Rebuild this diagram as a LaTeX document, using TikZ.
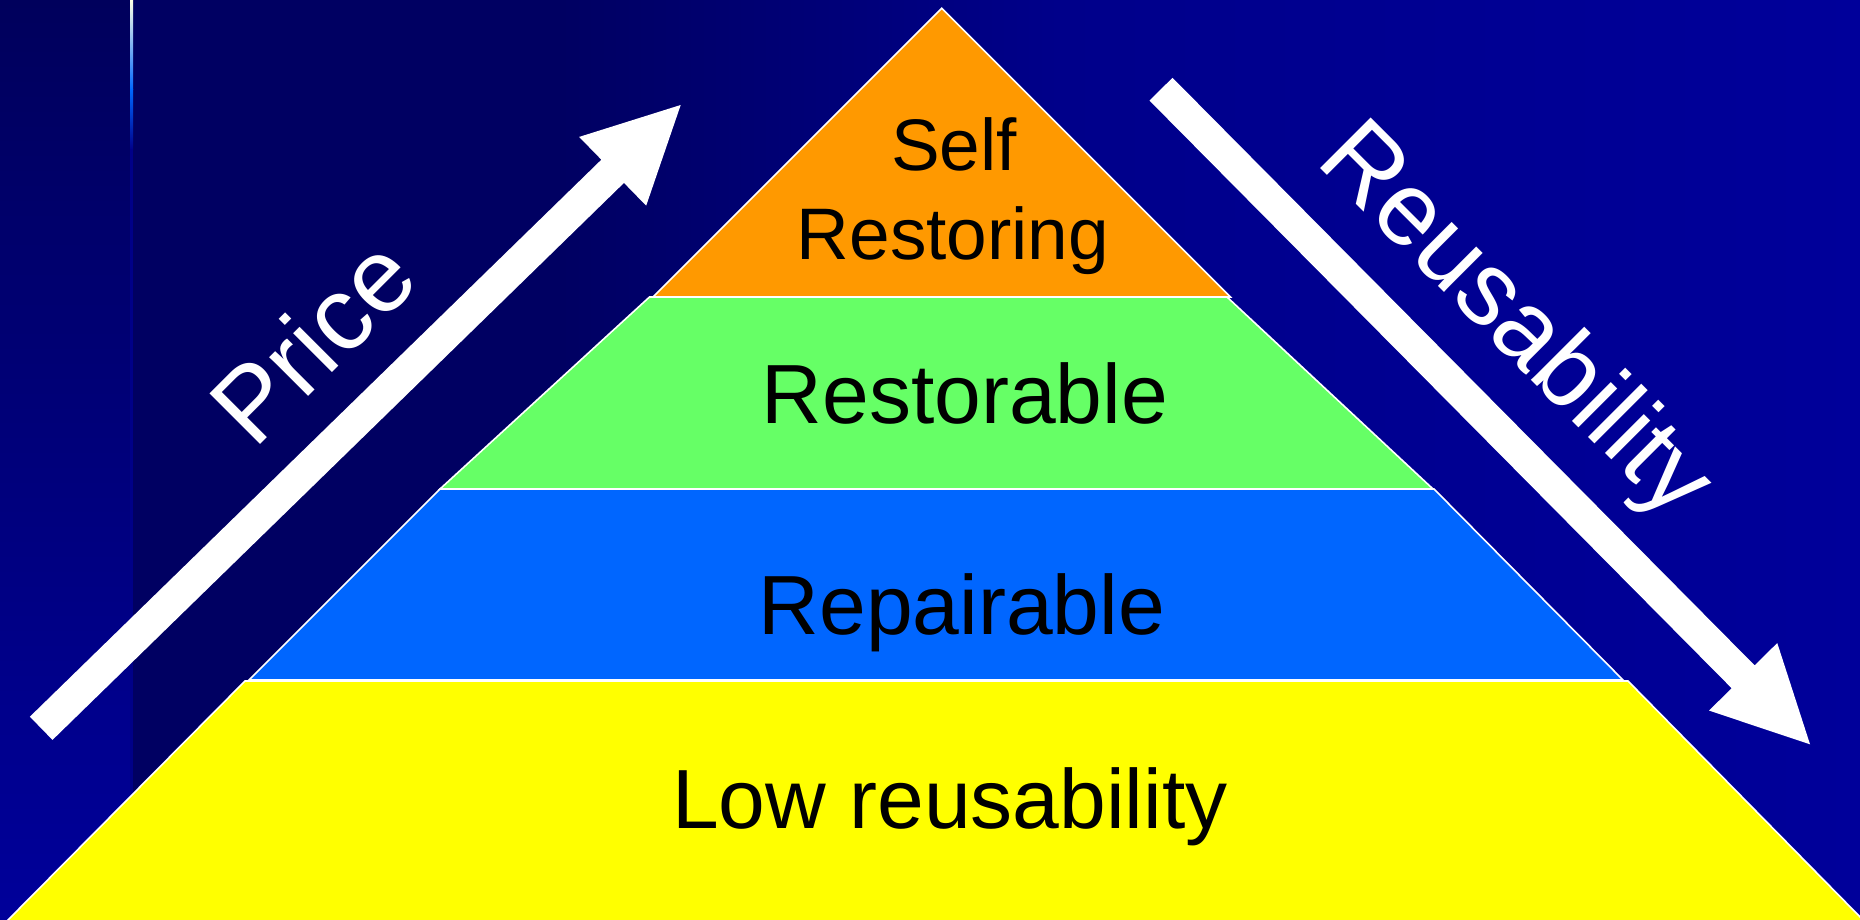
\documentclass[tikz,border=0pt]{standalone}
\usepackage{fontspec}
\setmainfont{Liberation Sans}
\usetikzlibrary{calc}
\definecolor{bgdark}{HTML}{000062}
\definecolor{bgmid}{HTML}{00008A}
\definecolor{bgright}{HTML}{00009A}
\definecolor{striptop}{HTML}{00005C}
\definecolor{stripbot}{HTML}{00009A}
\definecolor{stripline}{HTML}{000088}
\definecolor{lorange}{HTML}{FF9900}
\definecolor{lgreen}{HTML}{66FF66}
\definecolor{lblue}{HTML}{0066FF}
\definecolor{lyellow}{HTML}{FFFF00}
\definecolor{linecream}{HTML}{FFFFE6}
\newcommand{\widearrow}[2]{%
  \coordinate (#1n) at ($(#2)!95pt!(#1)$);
  \fill[bigarrow] ($(#1)!16.2pt!90:(#2)$) -- ($(#1n)!16.2pt!90:(#2)$) -- ($(#1n)!48pt!90:(#2)$) -- (#2)
    -- ($(#1n)!48pt!-90:(#2)$) -- ($(#1n)!16.2pt!-90:(#2)$) -- ($(#1)!16.2pt!-90:(#2)$) -- cycle;}
\begin{document}
\begin{tikzpicture}[x=1pt,y=1pt,
  layer/.style={draw=white,line width=1.6pt,line join=miter},
  lbl/.style={font=\fontsize{84}{100}\selectfont,text=black,inner sep=0pt,anchor=base},
  toplbl/.style={font=\fontsize{73}{89}\selectfont,text=black,inner sep=0pt,anchor=base},
  axislbl/.style={font=\fontsize{104}{120}\selectfont,text=white,inner sep=0pt,anchor=base west},
  bigarrow/.style={fill=white}]
\clip (0,0) rectangle (1860,920);
% background
\fill[bgdark] (132,0) rectangle (560,920);
\shade[left color=bgdark,right color=bgmid] (559.5,0) rectangle (1060,920);
\shade[left color=bgmid,right color=bgright] (1059.5,0) rectangle (1860,920);
\shade[top color=striptop,bottom color=stripbot] (0,0) rectangle (130,920);
% thin vertical line
\shade[top color=linecream,bottom color=lblue] (130,830) rectangle (133,920);
\shade[top color=lblue,bottom color=stripline] (130,770) rectangle (133,830.5);
\fill[stripline] (130,0) rectangle (133,770.5);
% pyramid layers
\path[layer,fill=lyellow] (245,239) -- (1628,239) -- (1866,-3) -- (5,-3) -- cycle;
\path[layer,fill=lblue] (440,431) -- (1434,431) -- (1623,240) -- (249,240) -- cycle;
\path[layer,fill=lgreen] (649.5,623) -- (1227,623) -- (1433,431) -- (440,431) -- cycle;
\path[layer,fill=lorange] (941.7,911.7) -- (1230.4,623) -- (653,623) -- cycle;
% labels
\node[toplbl] (self) at (954,749) {Self};
\node[toplbl] (restoring) at (953,660) {Restoring};
\node[lbl] (restorable) at (965,496.7) {Restorable};
\node[lbl] (repairable) at (962,285.7) {Repairable};
\node[lbl] (low) at (950,91.7) {Low reusability};
% arrows
\coordinate (pa) at (41.2,191.7);
\coordinate (pt) at (680.7,815);
\widearrow{pa}{pt}
\coordinate (ra) at (1161,830.8);
\coordinate (rt) at (1810,175.7);
\widearrow{ra}{rt}
\node[axislbl,rotate=45] (price) at (254.3,469.3) {Price};
\node[axislbl,rotate=-45] (reuse) at (1314,757.4) {Reusability};
\end{tikzpicture}
\end{document}
